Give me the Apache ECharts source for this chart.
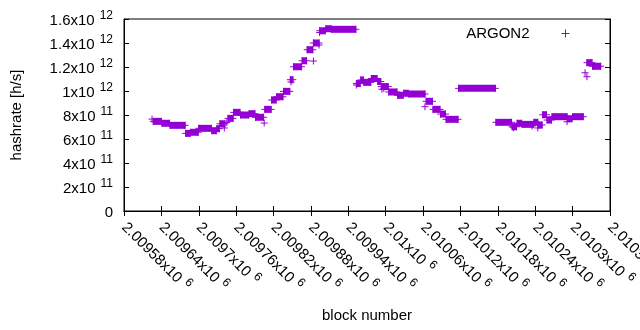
<!DOCTYPE html>
<html>
<head>
<meta charset="utf-8">
<script src="https://cdn.jsdelivr.net/npm/echarts@6/dist/echarts.min.js"></script>
<style>
  html, body { margin: 0; padding: 0; background: #fff; }
  #chart { width: 640px; height: 330px; }
</style>
</head>
<body>
<div id="chart"></div>
<script>
// runs of blocks sharing one hashrate value (they show as solid bars)
const runStart = [
  2009627, 2009641, 2009654, 2009679, 2009687, 2009700, 2009721, 2009729, 2009734,
  2009747, 2009756, 2009767, 2009781, 2009791, 2009806, 2009817, 2009825, 2009836,
  2009847, 2009852, 2009866, 2009874, 2009884, 2009894, 2009904, 2009913, 2009953,
  2009960, 2009965, 2009977, 2009987, 2009993, 2010005, 2010019, 2010029, 2010037,
  2010065, 2010076, 2010088, 2010097, 2010117, 2010177, 2010203, 2010211, 2010219,
  2010238, 2010245, 2010252, 2010259, 2010267, 2010292, 2010300, 2010323, 2010332
];
const runEnd = [
  2009640, 2009653, 2009678, 2009686, 2009699, 2009720, 2009728, 2009733, 2009742,
  2009755, 2009766, 2009780, 2009790, 2009804, 2009816, 2009824, 2009835, 2009846,
  2009851, 2009865, 2009873, 2009883, 2009893, 2009903, 2009912, 2009952, 2009959,
  2009964, 2009976, 2009986, 2009992, 2010004, 2010018, 2010028, 2010036, 2010063,
  2010075, 2010087, 2010096, 2010116, 2010176, 2010202, 2010210, 2010218, 2010237,
  2010244, 2010251, 2010258, 2010266, 2010291, 2010299, 2010317, 2010331, 2010345
];
const runValue = [
  747e9, 731e9, 714e9, 647e9, 656e9, 689e9, 669e9, 686e9, 727e9,
  772e9, 822e9, 800e9, 811e9, 781e9, 847e9, 925e9, 952e9, 997e9,
  1094e9, 1202e9, 1252e9, 1344e9, 1400e9, 1502e9, 1519e9, 1514e9, 1062e9,
  1092e9, 1072e9, 1104e9, 1079e9, 1037e9, 992e9, 964e9, 981e9, 975e9,
  914e9, 847e9, 808e9, 764e9, 1022e9, 739e9, 702e9, 731e9, 722e9,
  739e9, 717e9, 802e9, 758e9, 786e9, 769e9, 786e9, 1236e9, 1206e9
];
// single blocks that stand apart from the runs
const strayBlock = [
  2009625, 2009741, 2009745, 2009805, 2009848, 2009884, 2009893, 2009894,
  2009953, 2009994, 2009997, 2010063, 2010205, 2010235, 2010244, 2010291,
  2010320, 2010323
];
const strayValue = [
  766e9, 692e9, 737e9, 733e9, 1075e9, 1250e9, 1383e9, 1487e9,
  1050e9, 1014e9, 1022e9, 869e9, 694e9, 708e9, 692e9, 744e9,
  1152e9, 1119e9
];

const xTickMant = [
  "2.00958", "2.00964", "2.0097", "2.00976", "2.00982", "2.00988", "2.00994",
  "2.01", "2.01006", "2.01012", "2.01018", "2.01024", "2.0103", "2.01036"
];
const xTickExp = "6";
const yTickMant = ["0", "2", "4", "6", "8", "1", "1.2", "1.4", "1.6"];
const yTickExp = ["", "11", "11", "11", "11", "12", "12", "12", "12"];

const xMin = 2009580, xMax = 2010360, xStep = 60;
const yMin = 0, yMax = 1.6e12, yStep = 2e11;
const purple = "#9400d3";
const plusSymbol = "path://M0,5L10,5M5,0L5,10";
const font = "Liberation Sans";

const chart = echarts.init(document.getElementById("chart"));

const runData = runStart.map((s, i) => [s, runEnd[i], runValue[i]]);
const pointData = [];
runStart.forEach((s, i) => {
  pointData.push([s, runValue[i]]);
  pointData.push([runEnd[i], runValue[i]]);
});
strayBlock.forEach((b, i) => pointData.push([b, strayValue[i]]));

// superscript: padding under the exponent lifts it above the mantissa
const richLabel = {
  m: { fontFamily: font, fontSize: 15, color: "#000", lineHeight: 20 },
  s: { fontFamily: font, fontSize: 12, color: "#000", lineHeight: 12, padding: [0, 0, 10, 5] },
};

function xLabel(value) {
  const i = Math.round((value - xMin) / xStep);
  return "{m|" + xTickMant[i] + "x10}{s|" + xTickExp + "}";
}
function yLabel(value) {
  const i = Math.round((value - yMin) / yStep);
  if (!yTickExp[i]) return "{m|" + yTickMant[i] + "}";
  return "{m|" + yTickMant[i] + "x10}{s|" + yTickExp[i] + "}";
}

const tick = { show: true, inside: true, length: 5, lineStyle: { color: "#000", width: 1 } };
const line = { show: true, lineStyle: { color: "#000", width: 1 } };

const option = {
  animation: false,
  grid: {
    left: 124, right: 30, top: 19, bottom: 119,
    outerBoundsMode: "none",
    show: true, borderColor: "#000", borderWidth: 1,
  },
  legend: {
    data: ["ARGON2"],
    right: 68,
    top: 26,
    padding: 0,
    align: "right",
    itemWidth: 8,
    itemHeight: 8,
    icon: plusSymbol,
    itemStyle: { color: "none", borderColor: purple, borderWidth: 1 },
    textStyle: { fontFamily: font, fontSize: 15, color: "#000", padding: [0, 27, 0, 0] },
  },
  xAxis: [
    {
      type: "value", min: xMin, max: xMax, interval: xStep,
      name: "block number", nameLocation: "middle", nameGap: 97,
      nameTextStyle: { fontFamily: font, fontSize: 15, color: "#000" },
      axisLine: line, axisTick: tick, splitLine: { show: false },
      axisLabel: {
        rotate: -45, margin: 14, formatter: xLabel, rich: richLabel,
        showMinLabel: true, showMaxLabel: true, hideOverlap: false,
      },
    },
    {
      type: "value", position: "top", min: xMin, max: xMax, interval: xStep,
      axisLine: line, axisTick: tick, splitLine: { show: false },
      axisLabel: { show: false },
    },
  ],
  yAxis: [
    {
      type: "value", min: yMin, max: yMax, interval: yStep,
      name: "hashrate [h/s]", nameLocation: "middle", nameGap: 100,
      nameTextStyle: { fontFamily: font, fontSize: 15, color: "#000" },
      axisLine: line, axisTick: tick, splitLine: { show: false },
      axisLabel: {
        margin: 11, padding: [3, 0, 0, 0], formatter: yLabel, rich: richLabel,
        showMinLabel: true, showMaxLabel: true, hideOverlap: false,
      },
    },
    {
      type: "value", position: "right", min: yMin, max: yMax, interval: yStep,
      axisLine: line, axisTick: tick, splitLine: { show: false },
      axisLabel: { show: false },
    },
  ],
  series: [
    {
      name: "ARGON2",
      type: "scatter",
      symbol: plusSymbol,
      symbolSize: 7,
      itemStyle: { color: "none", borderColor: purple, borderWidth: 1, opacity: 1 },
      data: pointData,
      z: 3,
    },
    {
      name: "runs",
      type: "custom",
      encode: { x: [0, 1], y: 2 },
      renderItem: function (params, api) {
        const a = api.coord([api.value(0), api.value(2)]);
        const b = api.coord([api.value(1), api.value(2)]);
        return {
          type: "rect",
          shape: { x: a[0] - 0.5, y: a[1] - 3.5, width: b[0] - a[0] + 1, height: 7 },
          style: { fill: purple },
        };
      },
      data: runData,
      z: 2,
    },
  ],
};

chart.setOption(option);
</script>
</body>
</html>
